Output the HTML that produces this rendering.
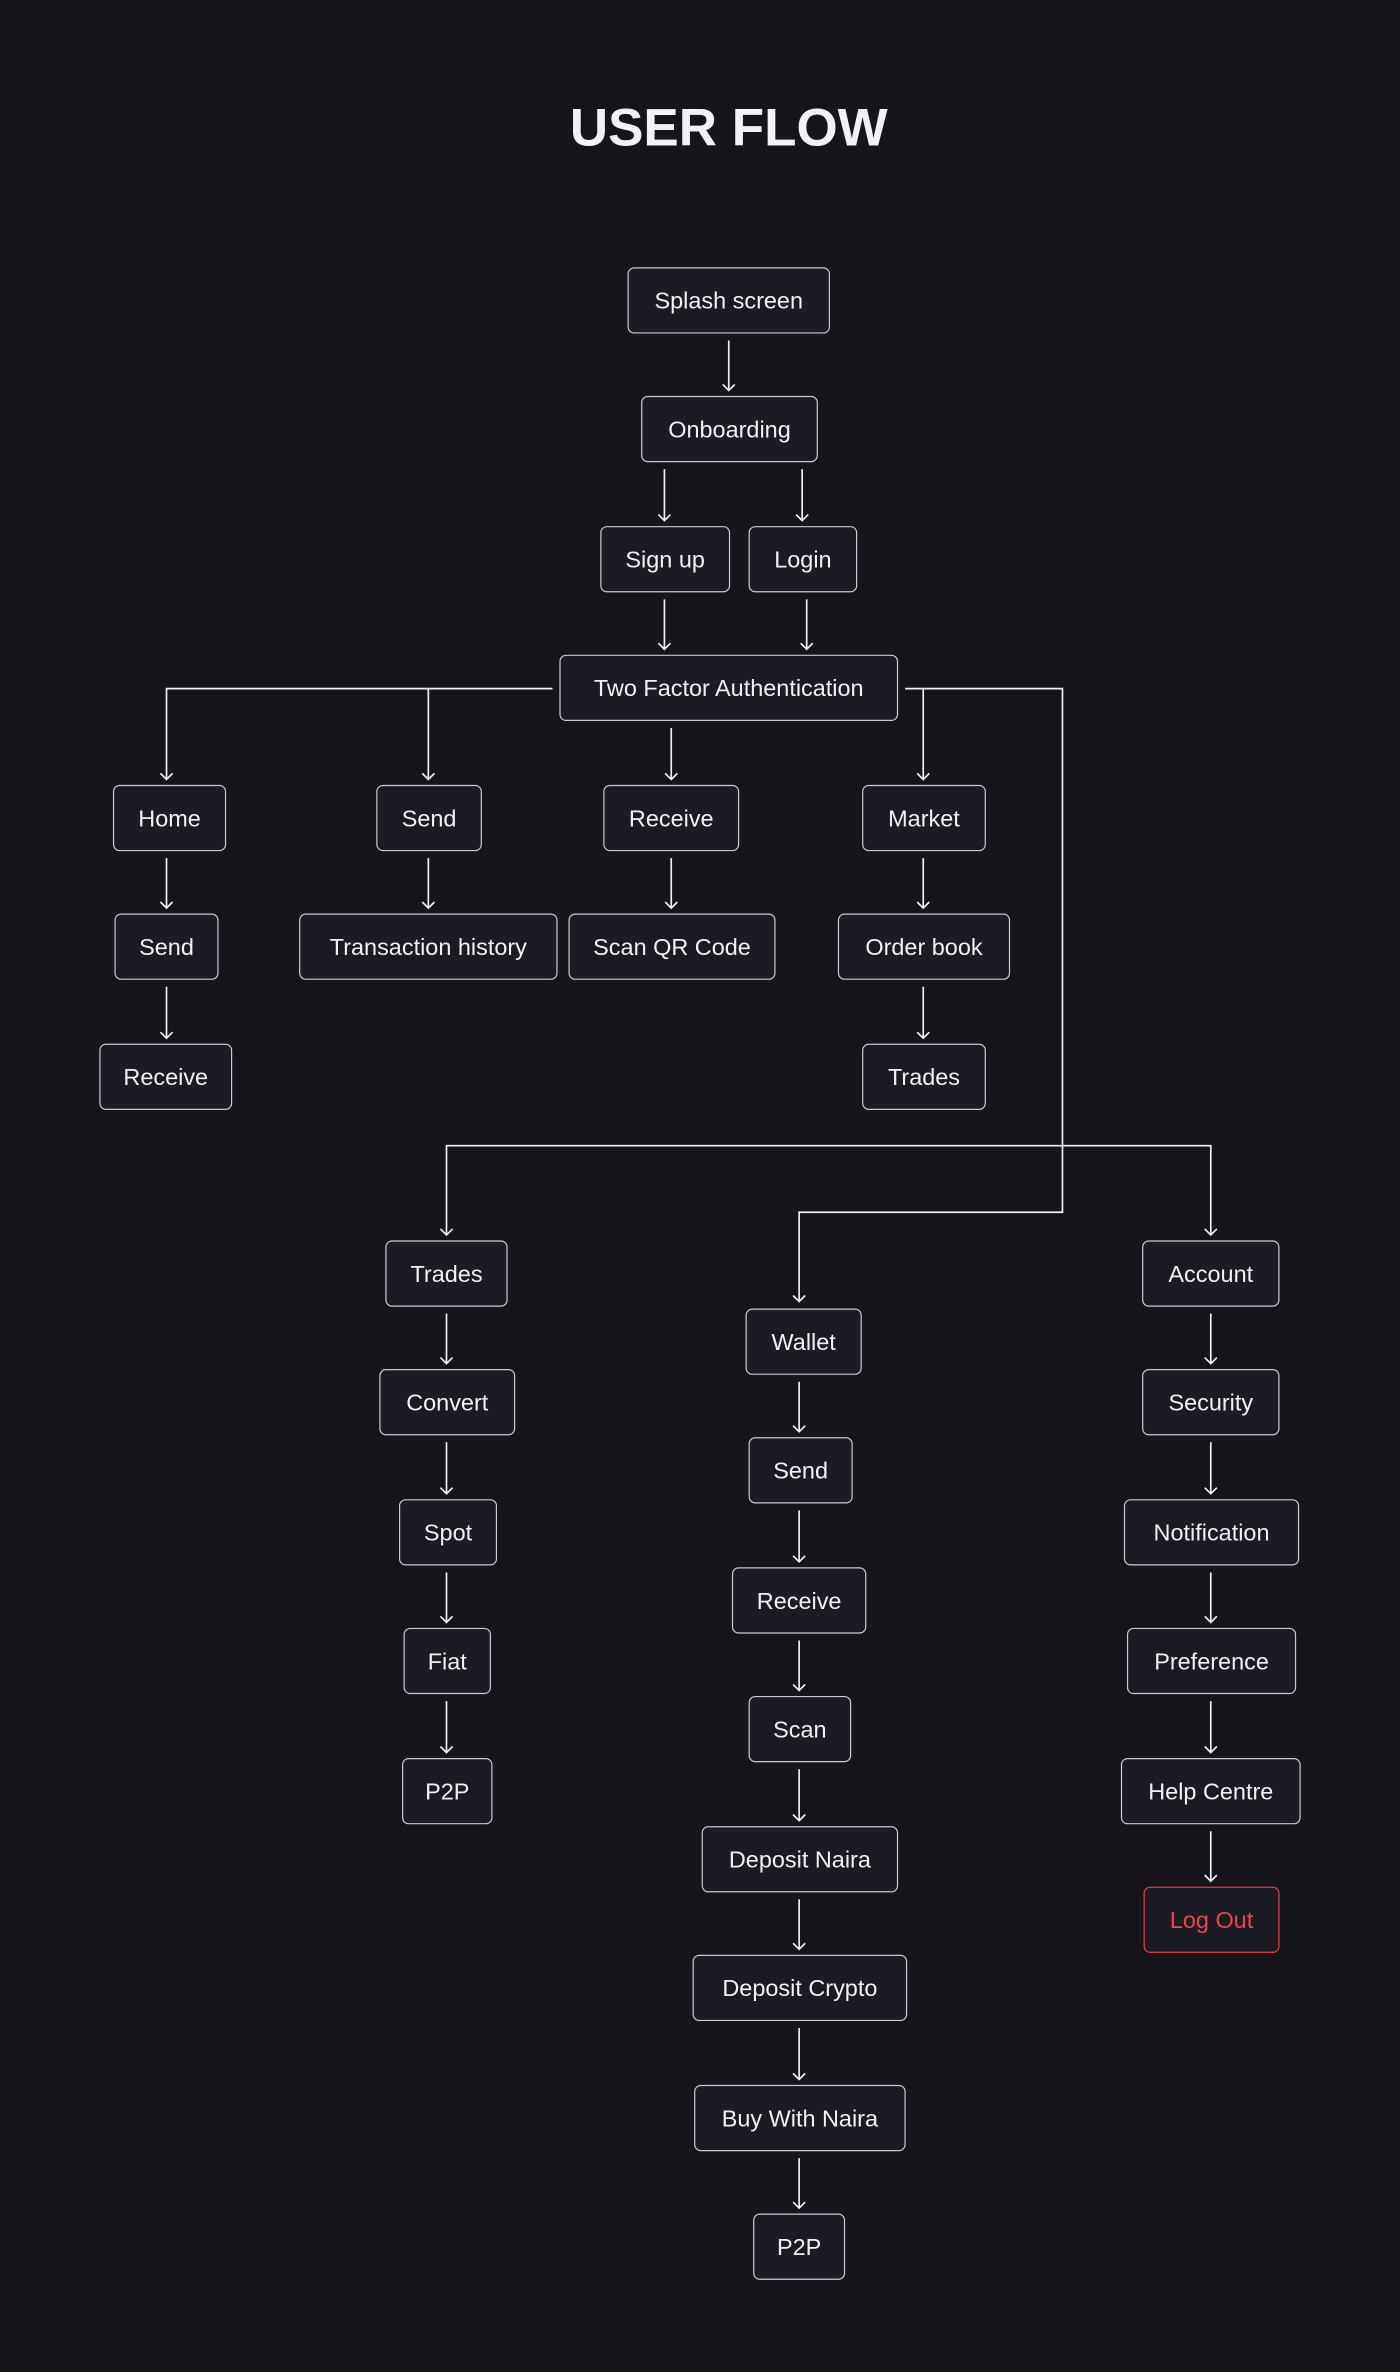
<!DOCTYPE html>
<html><head><meta charset="utf-8"><style>
html,body{margin:0;padding:0;background:#15151b;}
svg{display:block}
text{font-family:"Liberation Sans",sans-serif;fill:#f2f2f4;}
.b{fill:#1a1b23;stroke:#c9c9cf;stroke-width:0.8;}
.l{stroke:#f2f2f4;stroke-width:1.1;fill:none;}
</style></head><body>
<svg width="1400" height="2372" viewBox="0 0 925 1567.3" xmlns="http://www.w3.org/2000/svg">
<rect width="925" height="1568" fill="#15151b"/>
<text x="481.5" y="96" text-anchor="middle" font-size="35" font-weight="bold">USER FLOW</text>
<g id="boxes" font-size="15.5" text-anchor="middle">
<rect class="b" x="415" y="177" width="133" height="43" rx="4"/><text x="481.5" y="204">Splash screen</text>
<rect class="b" x="424" y="262" width="116" height="43" rx="4"/><text x="482" y="289">Onboarding</text>
<rect class="b" x="397" y="348" width="85" height="43" rx="4"/><text x="439.5" y="375">Sign up</text>
<rect class="b" x="495" y="348" width="71" height="43" rx="4"/><text x="530.5" y="375">Login</text>
<rect class="b" x="370" y="433" width="223" height="43" rx="4"/><text x="481.5" y="460">Two Factor Authentication</text>

<rect class="b" x="75" y="519" width="74" height="43" rx="4"/><text x="112" y="546">Home</text>
<rect class="b" x="249" y="519" width="69" height="43" rx="4"/><text x="283.5" y="546">Send</text>
<rect class="b" x="399" y="519" width="89" height="43" rx="4"/><text x="443.5" y="546">Receive</text>
<rect class="b" x="570" y="519" width="81" height="43" rx="4"/><text x="610.5" y="546">Market</text>

<rect class="b" x="76" y="604" width="68" height="43" rx="4"/><text x="110" y="631">Send</text>
<rect class="b" x="198" y="604" width="170" height="43" rx="4"/><text x="283" y="631">Transaction history</text>
<rect class="b" x="376" y="604" width="136" height="43" rx="4"/><text x="444" y="631">Scan QR Code</text>
<rect class="b" x="554" y="604" width="113" height="43" rx="4"/><text x="610.5" y="631">Order book</text>

<rect class="b" x="66" y="690" width="87" height="43" rx="4"/><text x="109.5" y="717">Receive</text>
<rect class="b" x="570" y="690" width="81" height="43" rx="4"/><text x="610.5" y="717">Trades</text>

<rect class="b" x="255" y="820" width="80" height="43" rx="4"/><text x="295" y="847">Trades</text>
<rect class="b" x="251" y="905" width="89" height="43" rx="4"/><text x="295.5" y="932">Convert</text>
<rect class="b" x="264" y="991" width="64" height="43" rx="4"/><text x="296" y="1018">Spot</text>
<rect class="b" x="267" y="1076" width="57" height="43" rx="4"/><text x="295.5" y="1103">Fiat</text>
<rect class="b" x="266" y="1162" width="59" height="43" rx="4"/><text x="295.5" y="1189">P2P</text>

<rect class="b" x="493" y="865" width="76" height="43" rx="4"/><text x="531" y="892">Wallet</text>
<rect class="b" x="495" y="950" width="68" height="43" rx="4"/><text x="529" y="977">Send</text>
<rect class="b" x="484" y="1036" width="88" height="43" rx="4"/><text x="528" y="1063">Receive</text>
<rect class="b" x="495" y="1121" width="67" height="43" rx="4"/><text x="528.5" y="1148">Scan</text>
<rect class="b" x="464" y="1207" width="129" height="43" rx="4"/><text x="528.5" y="1234">Deposit Naira</text>
<rect class="b" x="458" y="1292" width="141" height="43" rx="4"/><text x="528.5" y="1319">Deposit Crypto</text>
<rect class="b" x="459" y="1378" width="139" height="43" rx="4"/><text x="528.5" y="1405">Buy With Naira</text>
<rect class="b" x="498" y="1463" width="60" height="43" rx="4"/><text x="528" y="1490">P2P</text>

<rect class="b" x="755" y="820" width="90" height="43" rx="4"/><text x="800" y="847">Account</text>
<rect class="b" x="755" y="905" width="90" height="43" rx="4"/><text x="800" y="932">Security</text>
<rect class="b" x="743" y="991" width="115" height="43" rx="4"/><text x="800.5" y="1018">Notification</text>
<rect class="b" x="745" y="1076" width="111" height="43" rx="4"/><text x="800.5" y="1103">Preference</text>
<rect class="b" x="741" y="1162" width="118" height="43" rx="4"/><text x="800" y="1189">Help Centre</text>
<rect x="756" y="1247" width="89" height="43" rx="4" fill="#1a1b23" stroke="#d6393e" stroke-width="0.9"/><text x="800.5" y="1274" style="fill:#e8474c">Log Out</text>
</g>
<g class="l">
<path d="M481.5 225V258M477.5 254L481.5 258L485.5 254"/>
<path d="M439 310V344M435 340L439 344L443 340"/>
<path d="M530 310V344M526 340L530 344L534 340"/>
<path d="M439 396V429M435 425L439 429L443 425"/>
<path d="M533 396V429M529 425L533 429L537 425"/>
<path d="M365 455H110V515M106 511L110 515L114 511"/>
<path d="M283 455V515M279 511L283 515L287 511"/>
<path d="M443.5 481V515M439.5 511L443.5 515L447.5 511"/>
<path d="M598 455H702V801H528V860M524 856L528 860L532 856"/>
<path d="M610 455V515M606 511L610 515L614 511"/>
<path d="M110 567V600M106 596L110 600L114 596"/>
<path d="M110 652V686M106 682L110 686L114 682"/>
<path d="M283 567V600M279 596L283 600L287 596"/>
<path d="M443.5 567V600M439.5 596L443.5 600L447.5 596"/>
<path d="M610 567V600M606 596L610 600L614 596"/>
<path d="M610 652V686M606 682L610 686L614 682"/>
<path d="M295 816V757H800V816M291 812L295 816L299 812M796 812L800 816L804 812"/>
</g>
<g class="l">
<path d="M295 868V901M291 897L295 901L299 897"/>
<path d="M295 953V987M291 983L295 987L299 983"/>
<path d="M295 1039V1072M291 1068L295 1072L299 1068"/>
<path d="M295 1124V1158M291 1154L295 1158L299 1154"/>
<path d="M528 913V946M524 942L528 946L532 942"/>
<path d="M528 998V1032M524 1028L528 1032L532 1028"/>
<path d="M528 1084V1117M524 1113L528 1117L532 1113"/>
<path d="M528 1169V1203M524 1199L528 1203L532 1199"/>
<path d="M528 1255V1288M524 1284L528 1288L532 1284"/>
<path d="M528 1340V1374M524 1370L528 1374L532 1370"/>
<path d="M528 1426V1459M524 1455L528 1459L532 1455"/>
<path d="M800 868V901M796 897L800 901L804 897"/>
<path d="M800 953V987M796 983L800 987L804 983"/>
<path d="M800 1039V1072M796 1068L800 1072L804 1068"/>
<path d="M800 1124V1158M796 1154L800 1158L804 1154"/>
<path d="M800 1210V1243M796 1239L800 1243L804 1239"/>
</g>
</svg>
</body></html>
